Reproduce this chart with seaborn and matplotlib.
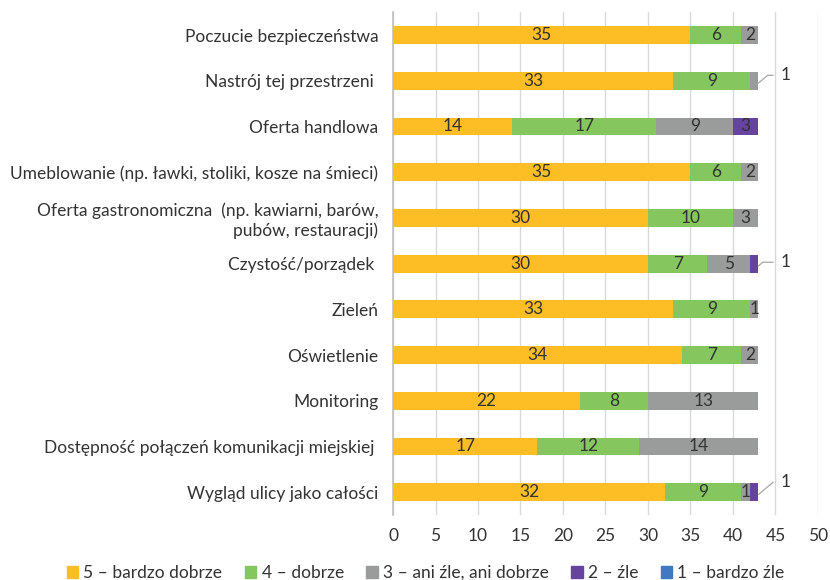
import numpy as np
import pandas as pd
import seaborn as sns
import matplotlib.pyplot as plt

# data
categories = [
    "Poczucie bezpieczeństwa",
    "Nastrój tej przestrzeni ",
    "Oferta handlowa",
    "Umeblowanie (np. ławki, stoliki, kosze na śmieci)",
    "Oferta gastronomiczna  (np. kawiarni, barów,\npubów, restauracji)",
    "Czystość/porządek ",
    "Zieleń",
    "Oświetlenie",
    "Monitoring",
    "Dostępność połączeń komunikacji miejskiej ",
    "Wygląd ulicy jako całości",
]
series = ["5 – bardzo dobrze", "4 – dobrze", "3 – ani źle, ani dobrze", "2 – źle", "1 – bardzo źle"]
v5 = [35, 33, 14, 35, 30, 30, 33, 34, 22, 17, 32]
v4 = [6, 9, 17, 6, 10, 7, 9, 7, 8, 12, 9]
v3 = [2, 1, 9, 2, 3, 5, 1, 2, 13, 14, 1]
v2 = [0, 0, 3, 0, 0, 1, 0, 0, 0, 0, 1]
v1 = [0, 0, 0, 0, 0, 0, 0, 0, 0, 0, 0]
colors = ["#FDBD25", "#86C65F", "#9A9C9B", "#6743A0", "#3F79C1"]
# labels drawn outside with a leader line: (category, series) -> vertical offset
outside = {(1, 2): -0.12, (5, 3): -0.03, (10, 3): -0.22}

sns.set_style("white")
plt.rcParams["font.family"] = ["Lato", "DejaVu Sans"]
txt = "#333333"
fs = 12.5

vals = np.array([v5, v4, v3, v2, v1], dtype=float)
cum = vals.cumsum(axis=0)

fig = plt.figure(figsize=(8.3, 5.8), dpi=100)
ax = fig.add_axes([0.4735, 0.112, 0.5120, 0.867])

# stacked bars: draw cumulative totals, largest first
for i in range(len(series) - 1, -1, -1):
    df = pd.DataFrame({"cat": categories, "total": cum[i]})
    sns.barplot(data=df, x="total", y="cat", orient="h", color=colors[i],
                width=0.39, saturation=1, linewidth=0, ax=ax)

# segment labels
for i in range(len(series)):
    for j in range(len(categories)):
        v = vals[i, j]
        if v == 0:
            continue
        right = cum[i, j]
        if (j, i) in outside:
            ax.annotate(f"{int(v)}", xy=(right, j + 0.05), xytext=(45.6, j + outside[(j, i)]),
                        ha="left", va="center", fontsize=fs, color=txt,
                        arrowprops=dict(arrowstyle="-", color="#A6A6A6", lw=0.9,
                                        shrinkA=3, shrinkB=0,
                                        connectionstyle="angle,angleA=0,angleB=40,rad=0"))
        else:
            ax.text(right - v / 2, j, f"{int(v)}", ha="center", va="center",
                    fontsize=fs, color=txt)

ax.set_xlim(0, 50)
ax.set_ylim(len(categories) - 0.5, -0.5)
ax.set_xticks(range(0, 51, 5))
ax.xaxis.grid(True, color="#D9D9D9", lw=1)
ax.set_axisbelow(True)
ax.set_xlabel("")
ax.set_ylabel("")
for s in ["top", "right", "bottom"]:
    ax.spines[s].set_visible(False)
ax.spines["left"].set_color("#BFBFBF")
ax.spines["left"].set_linewidth(1.2)
ax.tick_params(axis="both", length=0, labelsize=fs, colors=txt)
ax.tick_params(axis="x", pad=9)
ax.tick_params(axis="y", pad=10.5)
for lab in ax.get_yticklabels():
    lab.set_horizontalalignment("right")
    lab.set_multialignment("right")

handles = [plt.Rectangle((0, 0), 1, 1, color=c) for c in colors]
fig.legend(handles, series, loc="center", bbox_to_anchor=(0.513, 0.012), ncol=5,
           frameon=False, fontsize=fs, handlelength=0.65, handleheight=0.65,
           handletextpad=0.3, columnspacing=1.3, labelcolor=txt)

fig.savefig("out.png", dpi=100)
